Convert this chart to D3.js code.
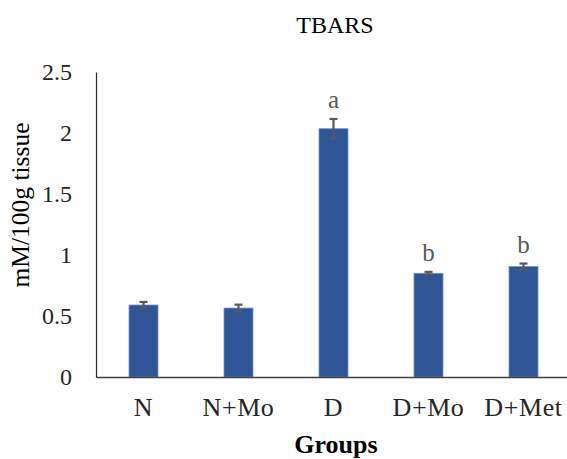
<!DOCTYPE html>
<html>
<head>
<meta charset="utf-8">
<script src="https://cdn.jsdelivr.net/npm/d3@7"></script>
<style>
  html, body { margin: 0; padding: 0; background: #fff; }
  svg { display: block; }
  text { font-family: "Liberation Serif", "Times New Roman", serif; }
</style>
</head>
<body>
<svg id="chart" width="567" height="459"></svg>
<script>
// TBARS level per group (mM/100g tissue), with standard error and significance letters
const groups = ["N", "N+Mo", "D", "D+Mo", "D+Met"];
const means = [0.59, 0.565, 2.035, 0.85, 0.905];
const errors = [0.025, 0.028, 0.08, 0.012, 0.025];
const letters = ["", "", "a", "b", "b"];
const yTicks = [0, 0.5, 1, 1.5, 2, 2.5];

const svg = d3.select("#chart");
const margin = { left: 96, right: -4, top: 72, bottom: 82 };
const W = 567, H = 459;

const x = d3.scaleBand()
  .domain(groups)
  .range([margin.left, W - margin.right])
  .paddingInner(0.695)
  .paddingOuter(0.3475);

const y = d3.scaleLinear()
  .domain([0, 2.5])
  .range([H - margin.bottom, margin.top]);

const barColor = "#2F5597";
const inkGrey = "#595959";

// title
svg.append("text")
  .attr("x", 335).attr("y", 33)
  .attr("text-anchor", "middle")
  .attr("font-size", 24)
  .attr("fill", "#000")
  .text("TBARS");

// bars
svg.selectAll("rect.bar")
  .data(groups)
  .join("rect")
  .attr("class", "bar")
  .attr("x", d => x(d))
  .attr("width", x.bandwidth())
  .attr("y", (d, i) => y(means[i]))
  .attr("height", (d, i) => y(0) - y(means[i]))
  .attr("fill", barColor)
  .attr("stroke", "#6f8fc8")
  .attr("stroke-width", 0.8);

// error bars
const capW = 8;
const eb = svg.append("g").attr("stroke", inkGrey).attr("stroke-width", 2.2);
groups.forEach((g, i) => {
  const cx = x(g) + x.bandwidth() / 2;
  const top = y(means[i] + errors[i]);
  const bot = y(means[i] - errors[i]);
  eb.append("line").attr("x1", cx).attr("x2", cx).attr("y1", top).attr("y2", bot);
  eb.append("line").attr("x1", cx - capW / 2).attr("x2", cx + capW / 2).attr("y1", top).attr("y2", top);
  eb.append("line").attr("x1", cx - capW / 2).attr("x2", cx + capW / 2).attr("y1", bot).attr("y2", bot);
});

// significance letters
svg.selectAll("text.sig")
  .data(groups)
  .join("text")
  .attr("class", "sig")
  .attr("x", d => x(d) + x.bandwidth() / 2)
  .attr("y", (d, i) => y(means[i] + errors[i]) - 11)
  .attr("text-anchor", "middle")
  .attr("font-size", 25)
  .attr("fill", inkGrey)
  .text((d, i) => letters[i]);

// y axis
const yAxis = d3.axisLeft(y).tickValues(yTicks).tickSize(0).tickPadding(24)
  .tickFormat(d => String(d));
const ya = svg.append("g").attr("transform", `translate(${margin.left},0)`).call(yAxis);
ya.select(".domain").attr("stroke", "#262626").attr("stroke-width", 1.2);
ya.selectAll("text")
  .attr("font-family", "Liberation Serif, Times New Roman, serif")
  .attr("font-size", 24).attr("fill", "#262626");

// x axis
const xAxis = d3.axisBottom(x).tickSize(0).tickPadding(21);
const xa = svg.append("g").attr("transform", `translate(0,${y(0)})`).call(xAxis);
xa.select(".domain").attr("stroke", "#404040").attr("stroke-width", 1.6);
xa.selectAll("text")
  .attr("font-family", "Liberation Serif, Times New Roman, serif")
  .attr("font-size", 26).attr("letter-spacing", 0.6).attr("fill", "#262626");

// axis titles
svg.append("text")
  .attr("transform", "translate(29,205) rotate(-90)")
  .attr("text-anchor", "middle")
  .attr("font-size", 25.5)
  .attr("fill", "#000")
  .text("mM/100g tissue");

svg.append("text")
  .attr("x", 336).attr("y", 453)
  .attr("text-anchor", "middle")
  .attr("font-size", 26)
  .attr("font-weight", "bold")
  .attr("fill", "#000")
  .text("Groups");
</script>
</body>
</html>
